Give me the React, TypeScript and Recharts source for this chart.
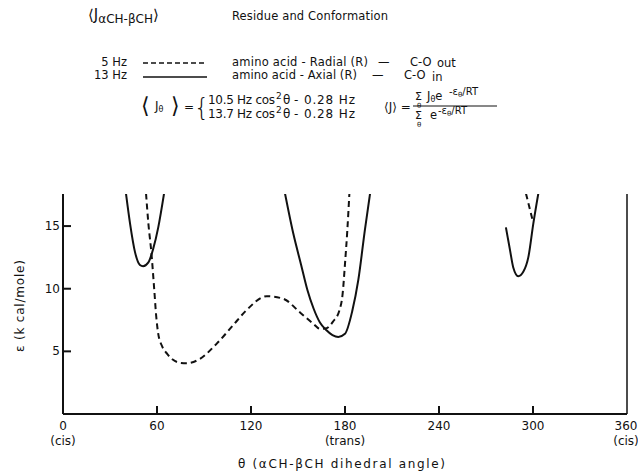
import { LineChart, Line, XAxis, YAxis, ReferenceLine } from 'recharts';

// energy curves: [theta (deg), epsilon (kcal/mole)]
const solidLeft = [
  [40.2, 17.6], [42.8, 15.2], [46, 12.9], [49.1, 11.9], [51.1, 11.8],
  [54.5, 12.1], [57.6, 13.2], [60.8, 14.9], [64.5, 17.6],
];
const solidTrans = [
  [141.7, 17.6], [147, 14.4], [152, 11.9], [156, 9.9], [160, 8.4],
  [164, 7.3], [168, 6.7], [172, 6.3], [175.7, 6.15], [180, 6.4],
  [184.6, 8.2], [188.5, 10.7], [192.7, 14.7], [196, 17.6],
];
const solidRight = [
  [282.7, 14.9], [285.3, 13.1], [287.4, 11.7], [290.6, 11.0], [293.8, 11.35],
  [297, 12.5], [300.2, 15.2], [303.4, 17.6],
];
const dashedMain = [
  [53, 17.6], [54.5, 15.2], [56.4, 12.9], [58.2, 10.0], [59.5, 7.8],
  [60.8, 6.4], [63.3, 5.4], [66.5, 4.8], [70, 4.35], [75, 4.08],
  [79, 4.05], [87.4, 4.4], [98, 5.6], [108.7, 7.1], [117.2, 8.3],
  [130, 9.4], [140.6, 9.2], [151.3, 8.1], [159.8, 7.2], [164, 6.8],
  [168.3, 6.85], [172.5, 7.4], [176.5, 8.3], [178.5, 9.6], [180, 12.0],
  [181.5, 14.7], [182.8, 17.6],
];
const dashedRight = [[295.5, 17.6], [299.7, 15.5]];

const xTicks = [0, 60, 120, 180, 240, 300, 360];
const xNotes: Record<number, string> = { 0: '(cis)', 180: '(trans)', 360: '(cis)' };
const yTicks = [5, 10, 15];

const toRows = (pts: number[][]) => pts.map(([t, e]) => ({ t, e }));

const FONT = '"DejaVu Sans", sans-serif';
const INK = '#111';

const XTick = ({ x, y, payload }: any) => {
  const v = payload.value;
  return (
    <g>
      {v > 0 && v < 360 && <line x1={x} y1={y} x2={x} y2={y - 8} stroke={INK} strokeWidth={2} />}
      <text x={x} y={y + 16} textAnchor="middle" fontSize={12} fontFamily={FONT} fill={INK}>{v}</text>
      {xNotes[v] && (
        <text x={x} y={y + 31} textAnchor="middle" fontSize={12} fontFamily={FONT} fill={INK}>{xNotes[v]}</text>
      )}
    </g>
  );
};

const YTick = ({ x, y, payload }: any) => (
  <g>
    <line x1={x} y1={y} x2={x + 8} y2={y} stroke={INK} strokeWidth={2} />
    <text x={x - 3} y={y + 4} textAnchor="end" fontSize={12} fontFamily={FONT} fill={INK}>{payload.value}</text>
  </g>
);

// formula line of the <J_theta> bracket
const CosLine = ({ y, a }: { y: number; a: string }) => (
  <g>
    <text x={208} y={y} fontSize={12} textLength={67} lengthAdjust="spacing">{a} Hz cos</text>
    <text x={276} y={y - 5} fontSize={9}>2</text>
    <text x={283} y={y} fontSize={12}>θ</text>
    <text x={294} y={y} fontSize={12} textLength={61} lengthAdjust="spacing">- 0.28 Hz</text>
  </g>
);

const Header = () => (
  <svg width={638} height={474} style={{ position: 'absolute', left: 0, top: 0, pointerEvents: 'none' }}
    fontFamily={FONT} fill={INK}>
    <text x={88} y={20} fontSize={15}>
      ⟨J<tspan fontSize={12} dy={3}>αCH-βCH</tspan><tspan dy={-3}>⟩</tspan>
    </text>
    <text x={232} y={20} fontSize={11.5} textLength={156} lengthAdjust="spacing">Residue and Conformation</text>

    <text x={127} y={66} fontSize={11.5} textAnchor="end">5 Hz</text>
    <line x1={143} y1={63} x2={207} y2={63} stroke={INK} strokeWidth={1.6} strokeDasharray="5 3" />
    <text x={232} y={66} fontSize={11.5} textLength={136} lengthAdjust="spacing">amino acid - Radial (R)</text>
    <text x={378} y={66} fontSize={11.5}>—</text>
    <text x={410} y={66} fontSize={11.5}>C-O</text>
    <text x={437} y={67} fontSize={11.5}>out</text>

    <text x={127} y={79} fontSize={11.5} textAnchor="end">13 Hz</text>
    <line x1={143} y1={77} x2={207} y2={77} stroke={INK} strokeWidth={1.6} />
    <text x={232} y={79} fontSize={11.5} textLength={125} lengthAdjust="spacing">amino acid - Axial (R)</text>
    <text x={372} y={79} fontSize={11.5}>—</text>
    <text x={404} y={79} fontSize={11.5}>C-O</text>
    <text x={432} y={81} fontSize={11.5}>in</text>

    <text x={141} y={113} fontSize={22}>⟨</text>
    <text x={155} y={110} fontSize={12}>J<tspan fontSize={8} dy={2}>θ</tspan></text>
    <text x={171} y={113} fontSize={22}>⟩</text>
    <text x={184} y={111} fontSize={12}>=</text>
    <text x={194} y={116} fontSize={24} fontWeight={200}>{'{'}</text>
    <CosLine y={104} a="10.5" />
    <CosLine y={118} a="13.7" />

    <text x={384} y={111} fontSize={12}>⟨J⟩ =</text>
    <text x={415} y={100} fontSize={11}>Σ</text>
    <text x={417} y={108} fontSize={7}>θ</text>
    <text x={427} y={100} fontSize={11.5}>J<tspan fontSize={8} dy={2}>θ</tspan><tspan dy={-2}>e</tspan></text>
    <text x={449} y={95} fontSize={10}>-ε<tspan fontSize={7} dy={2}>θ</tspan><tspan dy={-2}>/RT</tspan></text>
    <line x1={413} y1={106} x2={497} y2={106} stroke={INK} strokeWidth={1} />
    <text x={415} y={119} fontSize={11}>Σ</text>
    <text x={417} y={127} fontSize={7}>θ</text>
    <text x={430} y={119} fontSize={11.5}>e</text>
    <text x={438} y={114} fontSize={10}>-ε<tspan fontSize={7} dy={2}>θ</tspan><tspan dy={-2}>/RT</tspan></text>

    <text x={24} y={352} fontSize={12} textLength={92} lengthAdjust="spacing" transform="rotate(-90 24 352)">ε (k cal/mole)</text>
    <text x={238} y={468} fontSize={12} textLength={207} lengthAdjust="spacing">θ (αCH-βCH dihedral angle)</text>
  </svg>
);

export default function App() {
  return (
    <div style={{ position: 'absolute', left: 0, top: 0, width: 638, height: 474, background: '#fff' }}>
      <LineChart width={638} height={474} margin={{ top: 194, right: 11, bottom: 30, left: 23 }}>
        <XAxis
          type="number" dataKey="t" domain={[0, 360]} ticks={xTicks} allowDataOverflow
          height={30} tickSize={0} tickMargin={0} tick={<XTick />} tickLine={false}
          axisLine={{ stroke: INK, strokeWidth: 2 }}
        />
        <YAxis
          type="number" dataKey="e" domain={[0, 17.56]} ticks={yTicks} allowDataOverflow
          width={40} tickSize={0} tickMargin={0} tick={<YTick />} tickLine={false}
          axisLine={{ stroke: INK, strokeWidth: 2 }}
        />
        <ReferenceLine x={360} stroke={INK} strokeWidth={1.5} />
        <Line data={toRows(solidLeft)} dataKey="e" type="monotone" stroke={INK} strokeWidth={2} dot={false} isAnimationActive={false} />
        <Line data={toRows(solidTrans)} dataKey="e" type="monotone" stroke={INK} strokeWidth={2} dot={false} isAnimationActive={false} />
        <Line data={toRows(solidRight)} dataKey="e" type="monotone" stroke={INK} strokeWidth={2} dot={false} isAnimationActive={false} />
        <Line data={toRows(dashedMain)} dataKey="e" type="monotone" stroke={INK} strokeWidth={2} strokeDasharray="6 4" dot={false} isAnimationActive={false} />
        <Line data={toRows(dashedRight)} dataKey="e" type="monotone" stroke={INK} strokeWidth={2} strokeDasharray="6 4" dot={false} isAnimationActive={false} />
      </LineChart>
      <Header />
    </div>
  );
}
